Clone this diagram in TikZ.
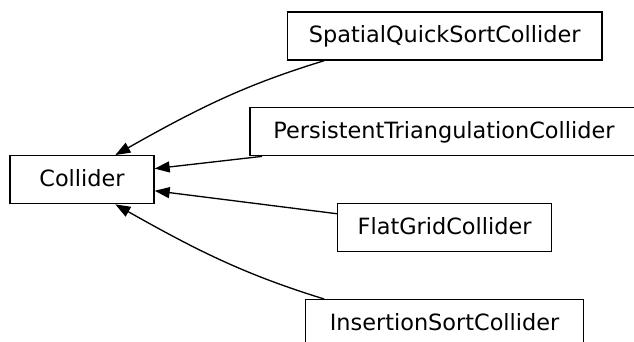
\documentclass[tikz,border=0pt]{standalone}
\usepackage{fontspec}
\newfontfamily\gvfont{DejaVu Sans}
\usetikzlibrary{arrows.meta,calc}
\begin{document}
\begin{tikzpicture}[x=1pt,y=-1pt,
  cls/.style={draw=black,line width=1.33pt,rectangle,minimum height=48pt,
    inner sep=0pt,text height=16.4pt,text depth=2.4pt,
    font=\gvfont\fontsize{22.4}{24}\selectfont},
  edge/.style={line width=1.33pt,-{Triangle[length=15pt,width=11pt]}}]
\useasboundingbox (0,0) rectangle (634,342);
\clip (0,0) rectangle (634,342);
\node[cls,minimum width=144pt] (col) at (82,179.7) {Collider};
\node[cls,minimum width=314.5pt] (sp) at (444.7,36) {SpatialQuickSortCollider};
\node[cls,minimum width=388pt] (pt) at (444,131.7) {PersistentTriangulationCollider};
\node[cls,minimum width=214pt] (fg) at (444.6,227.8) {FlatGridCollider};
\node[cls,minimum width=278pt] (ins) at (444.6,323.7) {InsertionSortCollider};
\draw[edge] ($(sp.south west)+(37.5,0)$) .. controls (248,84) and (202,106) .. ($(col.north west)+(106,0)$);
\draw[edge] ($(pt.south west)+(12.8,0)$) -- ($(col.north east)+(0,13.6)$);
\draw[edge] ($(fg.north west)+(0,10.6)$) -- ($(col.south east)+(0,-13.6)$);
\draw[edge] ($(ins.north west)+(19.3,0)$) .. controls (248,275.4) and (202,253.4) .. ($(col.south west)+(106,0)$);
\end{tikzpicture}
\end{document}
